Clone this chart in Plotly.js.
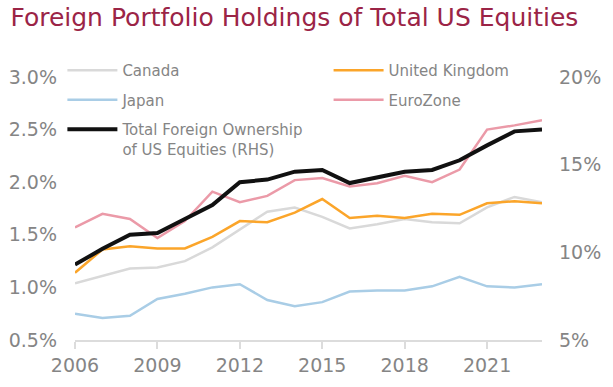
<!DOCTYPE html>
<html>
<head>
<meta charset="utf-8">
<script src="https://cdn.plot.ly/plotly-3.0.1.min.js"></script>
<style>html,body{margin:0;padding:0;background:#fff}#chart{width:613px;height:387px}</style>
</head>
<body>
<div id="chart"></div>
<script>
var years = [2006,2007,2008,2009,2010,2011,2012,2013,2014,2015,2016,2017,2018,2019,2020,2021,2022,2023];
var canada = [1.04,1.11,1.18,1.19,1.25,1.38,1.55,1.72,1.76,1.67,1.56,1.60,1.65,1.62,1.61,1.76,1.86,1.81];
var japan = [0.75,0.71,0.73,0.89,0.94,1.00,1.03,0.88,0.82,0.86,0.96,0.97,0.97,1.01,1.10,1.01,1.00,1.03];
var uk = [1.14,1.36,1.39,1.37,1.37,1.48,1.63,1.62,1.71,1.84,1.66,1.68,1.66,1.70,1.69,1.80,1.82,1.80];
var eurozone = [1.57,1.70,1.65,1.47,1.63,1.91,1.81,1.87,2.02,2.04,1.96,1.99,2.06,2.00,2.12,2.50,2.54,2.59];
var total = [9.3,10.2,11.0,11.1,11.9,12.7,14.0,14.15,14.6,14.7,13.95,14.3,14.6,14.7,15.25,16.1,16.9,17.0];
var leftTicks = [0.5,1.0,1.5,2.0,2.5,3.0];
var rightTicks = [5,10,15,20];
var xTicks = [2006,2009,2012,2015,2018,2021];

var gray = '#858585';
var traces = [
  {x: years, y: canada, name: 'Canada', legend: 'legend', legendgroup: 'a', type: 'scatter', mode: 'lines', line: {color: '#d9d9d9', width: 2.5}},
  {x: years, y: japan, name: 'Japan', legend: 'legend', legendgroup: 'b', type: 'scatter', mode: 'lines', line: {color: '#a9cde6', width: 2.5}},
  {x: years, y: uk, name: 'United Kingdom', legend: 'legend2', legendgroup: 'c', type: 'scatter', mode: 'lines', line: {color: '#fba52a', width: 2.5}},
  {x: years, y: eurozone, name: 'EuroZone', legend: 'legend2', legendgroup: 'd', type: 'scatter', mode: 'lines', line: {color: '#eb9aa8', width: 2.5}},
  {x: years, y: total, name: 'Total Foreign Ownership<br>of US Equities (RHS)', legend: 'legend', legendgroup: 'e', yaxis: 'y2', type: 'scatter', mode: 'lines', line: {color: '#111111', width: 4}}
];

var legendFont = {family: 'DejaVu Sans, sans-serif', size: 15, color: gray};
var layout = {
  width: 613, height: 387,
  margin: {l: 75, r: 71, t: 77, b: 47},
  paper_bgcolor: '#fff', plot_bgcolor: '#fff',
  title: {text: 'Foreign Portfolio Holdings of Total US Equities', font: {family: 'DejaVu Sans, sans-serif', size: 25, color: '#9b2446'}, x: 0.017, xref: 'container', xanchor: 'left', y: 0.978, yref: 'container', yanchor: 'top'},
  showlegend: true,
  legend: {x: -0.027, xanchor: 'left', y: 1.087, yanchor: 'top', font: legendFont, bgcolor: 'rgba(0,0,0,0)', tracegroupgap: 7, traceorder: 'grouped', valign: 'top', itemwidth: 50},
  legend2: {x: 0.543, xanchor: 'left', y: 1.087, yanchor: 'top', font: legendFont, bgcolor: 'rgba(0,0,0,0)', tracegroupgap: 7, traceorder: 'grouped', valign: 'top', itemwidth: 50},
  xaxis: {range: [2006, 2023], tickvals: xTicks, ticktext: xTicks.map(String), showgrid: false, zeroline: false, showline: true, linecolor: '#dcdcdc', linewidth: 2, ticks: 'outside', ticklen: 7, tickwidth: 2, tickcolor: '#dcdcdc', tickfont: {family: 'DejaVu Sans, sans-serif', size: 19, color: gray}},
  yaxis: {range: [0.5, 3.0], tickvals: leftTicks, ticktext: leftTicks.map(function(v){return v.toFixed(1)+'%';}), showgrid: false, zeroline: false, showline: false, ticks: '', ticklabelstandoff: 17, tickfont: {family: 'DejaVu Sans, sans-serif', size: 19, color: gray}},
  yaxis2: {range: [5, 20], overlaying: 'y', side: 'right', tickvals: rightTicks, ticktext: rightTicks.map(function(v){return v+'%';}), showgrid: false, zeroline: false, showline: false, ticks: '', ticklabelstandoff: 16, tickfont: {family: 'DejaVu Sans, sans-serif', size: 19, color: gray}}
};
Plotly.newPlot('chart', traces, layout, {displayModeBar: false, staticPlot: true});
</script>
</body>
</html>
